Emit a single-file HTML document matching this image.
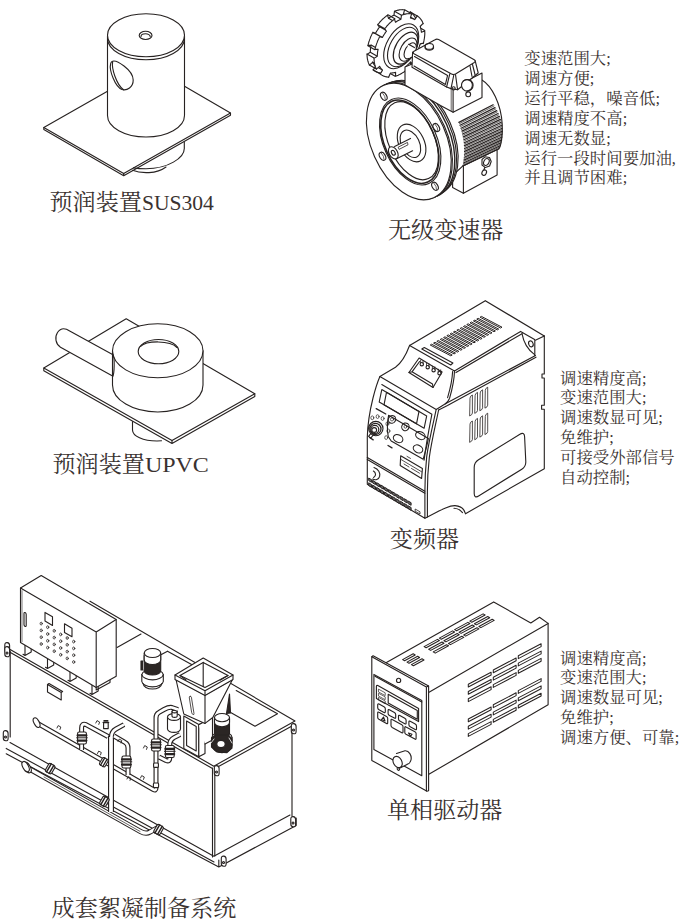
<!DOCTYPE html>
<html lang="zh"><head><meta charset="utf-8"><title>设备选型</title>
<style>
html,body{margin:0;padding:0;background:#fff;}
body{width:700px;height:924px;position:relative;overflow:hidden;font-family:"Liberation Serif",serif;}
svg{position:absolute;left:0;top:0;display:block}
.t{position:absolute;white-space:nowrap;line-height:1;color:transparent;overflow:hidden;height:1.1em;font-family:"Liberation Serif",serif;}
.ln{fill:none;stroke:#272221;stroke-width:1.12;stroke-linecap:round;stroke-linejoin:round}
.lw{fill:#fff;stroke:#272221;stroke-width:1.12;stroke-linecap:round;stroke-linejoin:round}
.lb{font-family:"Liberation Serif","Noto Serif CJK SC",serif;font-size:23.1px;}
.bd{font-family:"Liberation Serif","Noto Serif CJK SC",serif;font-size:16.4px;}
</style></head><body>
<svg width="700" height="924" viewBox="0 0 700 924">
<g fill="#3a3230">
<text class="lb" x="49.5" y="209.5">预润装置<tspan font-size="20.2" textLength="72" lengthAdjust="spacingAndGlyphs">SUS304</tspan></text>
<text class="lb" x="52.5" y="472.2">预润装置<tspan font-size="20.2" textLength="64" lengthAdjust="spacingAndGlyphs">UPVC</tspan></text>
<text class="lb" x="51.6" y="915.8">成套絮凝制备系统</text>
<text class="lb" x="388" y="237.5">无级变速器</text>
<text class="lb" x="389.8" y="546.6">变频器</text>
<text class="lb" x="387" y="817.8">单相驱动器</text>
<text class="bd" x="524.3" y="64.4">变速范围大;</text>
<text class="bd" x="524.3" y="84.23">调速方便;</text>
<text class="bd" x="524.3" y="104.06">运行平稳，噪音低;</text>
<text class="bd" x="524.3" y="123.89">调速精度不高;</text>
<text class="bd" x="524.3" y="143.72">调速无数显;</text>
<text class="bd" x="524.3" y="163.55">运行一段时间要加油,</text>
<text class="bd" x="524.3" y="183.38">并且调节困难;</text>
<text class="bd" x="560" y="383.5">调速精度高;</text>
<text class="bd" x="560" y="403.33">变速范围大;</text>
<text class="bd" x="560" y="423.16">调速数显可见;</text>
<text class="bd" x="560" y="442.99">免维护;</text>
<text class="bd" x="560" y="462.82">可接受外部信号</text>
<text class="bd" x="560" y="482.65">自动控制;</text>
<text class="bd" x="560" y="663.5">调速精度高;</text>
<text class="bd" x="560" y="683.33">变速范围大;</text>
<text class="bd" x="560" y="703.16">调速数显可见;</text>
<text class="bd" x="560" y="722.99">免维护;</text>
<text class="bd" x="560" y="742.82">调速方便、可靠;</text>
</g>
<!-- drawing 1 -->
<g class="ln" id="d1">
<!-- plate top face -->
<path d="M107.5 91.2 L43.8 127.5 L123.7 173.6 L230.5 113 L184.5 86.2"/>
<!-- plate thickness -->
<path d="M43.8 127.5 V129.6 L123.7 175.8 L230.5 115.3 V113 M123.7 173.6 V175.8"/>
<!-- lower cylinder under plate -->
<path d="M184.3 142 V148.5 C184.3 158 168 168.6 146 168.8 C141 168.8 137 168.5 133.5 167.9"/>
<path d="M132.5 170.3 C137 172.2 143 172.9 149 172.6 C156 172.2 161.5 170.4 166 167"/>
<!-- cylinder body -->
<path class="lw" d="M107.5 36 V115.5 A38.5 21.5 0 0 0 184.5 115.5 V36 Z"/>
<!-- lid -->
<path d="M107.5 38.2 A38.5 21.5 0 0 0 184.5 38.2"/>
<ellipse class="lw" cx="146" cy="35.2" rx="38.5" ry="21.5"/>
<!-- small top hole -->
<ellipse cx="145.6" cy="35.4" rx="6.4" ry="4.1"/>
<path d="M141 36.6 A4.6 2.8 0 0 1 150.2 36.6"/>
<!-- side hole -->
<path d="M112 61.5 C116 59 133 70 133.2 80 C133.3 87 127 91 122 89.5 C115 87 109 70 110.6 64 C110.9 62.5 111.4 61.8 112 61.5 Z"/>
<path d="M112.6 62.2 C111.5 68 116 84 123.5 89.8"/>
</g>

<!-- drawing 2 -->
<g class="ln" id="d2">
<path class="lw" d="M452.6 170 L463.4 164 L497.1 148.7 V175 L463.4 193.3 L452.6 187.6 Z"/>
<path d="M463.4 166 V193.3"/>
<path class="lw" d="M440 100 L482 80 C492 86 501 104 502.2 124 C502.8 136 501 146 498.9 148.7 L462.9 165.9 L452 176 Z"/>
<path style="stroke-width:1.25" d="M458.9 122.4 L493.1 104.7 M460.0 125.3 L495.0 107.6 M461.0 128.2 L496.7 110.6 M461.9 131.1 L498.1 113.5 M462.6 134.0 L499.4 116.4 M463.3 136.9 L500.4 119.4 M463.8 139.8 L501.2 122.3 M464.2 142.7 L501.8 125.2 M464.4 145.6 L502.2 128.2 M464.6 148.5 L502.4 131.1 M464.6 151.4 L502.3 134.0 M464.5 154.3 L502.1 137.0 M464.3 157.2 L501.6 139.9 M463.9 160.1 L500.9 142.8 M463.5 163.0 L500.0 145.8 M462.9 165.9 L498.9 148.7 "/>
<path style="stroke-width:.7" d="M459.4 123.7 L494.0 106.0 M460.5 126.6 L495.8 109.0 M461.4 129.5 L497.3 111.9 M462.2 132.4 L498.7 114.8 M462.9 135.3 L499.9 117.8 M463.5 138.2 L500.8 120.7 M464.0 141.1 L501.5 123.6 M464.3 144.0 L502.0 126.6 M464.5 146.9 L502.3 129.5 M464.6 149.8 L502.4 132.4 M464.6 152.7 L502.2 135.4 M464.4 155.6 L501.9 138.3 M464.1 158.5 L501.3 141.2 M463.8 161.4 L500.5 144.2 M463.2 164.3 L499.5 147.1 "/>
<path class="lw" d="M482 159.5 L485 156.8 L489.5 157.5 L491.2 161.5 L489.6 166 L485.4 167.6 L482 165 Z"/>
<ellipse cx="486.4" cy="162" rx="2.6" ry="3.6" transform="rotate(25 486.4 162)"/>
<ellipse cx="484.2" cy="172.6" rx="2.2" ry="2.8" transform="rotate(25 484.2 172.6)"/>
<path d="M484.6 167.6 L484 170"/>
<ellipse class="lw" cx="416.3" cy="137.7" rx="37" ry="60.5" transform="rotate(-24 416.3 137.7)" />
<ellipse class="lw" cx="414.3" cy="138.7" rx="37.5" ry="61" transform="rotate(-24 414.3 138.7)" />
<ellipse class="lw" cx="412.40000000000003" cy="139.7" rx="37.5" ry="61.5" transform="rotate(-24 412.40000000000003 139.7)" style="stroke-width:1.4"/>
<ellipse class="ln" cx="410.0" cy="140.9" rx="37.5" ry="61.5" transform="rotate(-24 410.0 140.9)" />
<ellipse class="lw" cx="408.8" cy="141.5" rx="37.5" ry="61.5" transform="rotate(-24 408.8 141.5)" />
<ellipse class="ln" cx="410.2" cy="141.5" rx="26.6" ry="46" transform="rotate(-24 410.2 141.5)" />
<ellipse class="ln" cx="409.8" cy="141.7" rx="25" ry="44.2" transform="rotate(-24 409.8 141.7)" style="stroke-width:1.6"/>
<ellipse class="ln" cx="411.6" cy="140.7" rx="22.8" ry="41.5" transform="rotate(-24 411.6 140.7)" />
<ellipse class="ln" cx="411.6" cy="143" rx="12.6" ry="20" transform="rotate(-26 411.6 143)" />
<ellipse class="ln" cx="410.4" cy="143.8" rx="9" ry="14.6" transform="rotate(-26 410.4 143.8)" />
<path class="lw" d="M394.6 146.4 L410.5 138.4 L414 150 L396.6 158.8 Z" style="stroke:none"/>
<path d="M394.6 146.4 L410.5 138.4 M396.6 158.8 L412.6 150.8"/>
<ellipse class="lw" cx="393.3" cy="152.8" rx="4.2" ry="6.6" transform="rotate(-30 393.3 152.8)" />
<ellipse class="ln" cx="393.3" cy="152.8" rx="1.7" ry="2.6" transform="rotate(-30 393.3 152.8)" />
<path style="stroke-width:.8" d="M398.5 147 L407.5 142.4 L408 144.8 L399.4 149.2Z"/>
<ellipse class="ln" cx="383.8" cy="96.3" rx="2.8" ry="4.4" transform="rotate(-30 383.8 96.3)" />
<path style="stroke-width:.7" d="M382.6 93.1 Q385.6 96.3 385.4 99.7"/>
<ellipse class="ln" cx="436.3" cy="127.5" rx="2.8" ry="4.4" transform="rotate(-30 436.3 127.5)" />
<path style="stroke-width:.7" d="M435.1 124.3 Q438.1 127.5 437.9 130.9"/>
<ellipse class="ln" cx="382.5" cy="156.3" rx="2.8" ry="4.4" transform="rotate(-30 382.5 156.3)" />
<path style="stroke-width:.7" d="M381.3 153.1 Q384.3 156.3 384.1 159.7"/>
<ellipse class="ln" cx="435" cy="186.3" rx="2.8" ry="4.4" transform="rotate(-30 435 186.3)" />
<path style="stroke-width:.7" d="M433.8 183.1 Q436.8 186.3 436.6 189.7"/>
<path class="lw" d="M411.0 52.1 L410.7 52.7 L410.4 53.2 L410.1 53.7 L409.8 54.2 L409.4 54.7 L409.1 55.2 L408.8 55.7 L408.4 56.2 L408.1 56.7 L407.7 57.2 L407.4 57.7 L407.0 58.1 L406.7 58.6 L406.3 59.1 L405.9 59.5 L405.5 60.0 L403.5 57.9 L403.2 58.3 L402.8 58.7 L402.5 59.1 L402.1 59.4 L401.8 59.8 L401.4 60.2 L401.1 60.5 L400.7 60.9 L400.4 61.2 L400.0 61.5 L399.7 61.9 L399.3 62.2 L398.9 62.5 L398.6 62.8 L399.0 66.3 L398.6 66.7 L398.2 67.0 L397.8 67.3 L397.3 67.7 L396.9 68.0 L396.5 68.3 L396.0 68.6 L395.6 68.8 L395.1 69.1 L394.7 69.4 L394.3 69.6 L393.8 69.9 L393.4 70.1 L392.9 70.4 L392.5 70.6 L392.0 70.8 L391.6 71.0 L391.2 71.2 L390.7 71.4 L390.3 71.6 L389.8 71.7 L389.4 71.9 L388.9 72.0 L388.5 72.2 L388.6 68.3 L388.3 68.4 L387.9 68.5 L387.5 68.6 L387.1 68.7 L386.8 68.7 L386.4 68.8 L386.0 68.9 L385.6 68.9 L385.3 69.0 L384.9 69.0 L384.6 69.0 L384.2 69.0 L383.8 69.0 L383.5 69.0 L381.7 73.1 L381.3 73.1 L381.0 73.1 L380.6 73.0 L380.2 73.0 L379.8 72.9 L379.4 72.9 L379.0 72.8 L378.6 72.7 L378.3 72.6 L377.9 72.5 L377.5 72.4 L377.2 72.2 L376.8 72.1 L376.5 72.0 L376.1 71.8 L375.8 71.6 L375.5 71.5 L375.1 71.3 L374.8 71.1 L374.5 70.9 L374.2 70.7 L373.9 70.5 L373.6 70.2 L373.3 70.0 L375.5 66.1 L375.3 65.8 L375.0 65.6 L374.8 65.4 L374.6 65.1 L374.4 64.9 L374.1 64.6 L373.9 64.4 L373.7 64.1 L373.5 63.8 L373.3 63.5 L373.1 63.2 L372.9 62.9 L372.8 62.6 L372.6 62.3 L369.4 65.1 L369.2 64.7 L369.1 64.3 L368.9 63.9 L368.7 63.5 L368.6 63.1 L368.4 62.7 L368.3 62.3 L368.2 61.9 L368.0 61.5 L367.9 61.0 L367.8 60.6 L367.7 60.2 L367.6 59.7 L367.5 59.3 L367.4 58.8 L367.3 58.3 L367.3 57.9 L367.2 57.4 L367.2 56.9 L367.1 56.4 L367.1 55.9 L367.1 55.4 L367.0 54.9 L367.0 54.4 L370.3 52.3 L370.3 51.8 L370.3 51.4 L370.3 50.9 L370.4 50.5 L370.4 50.0 L370.4 49.6 L370.5 49.1 L370.5 48.6 L370.6 48.2 L370.6 47.7 L370.7 47.2 L370.8 46.8 L370.9 46.3 L371.0 45.8 L371.1 45.3 L368.0 45.4 L368.1 44.8 L368.2 44.3 L368.4 43.7 L368.5 43.2 L368.7 42.6 L368.8 42.1 L369.0 41.5 L369.2 41.0 L369.4 40.4 L369.6 39.9 L369.7 39.3 L370.0 38.7 L370.2 38.2 L370.4 37.6 L370.6 37.1 L370.8 36.5 L371.1 36.0 L371.3 35.5 L371.6 34.9 L371.8 34.4 L372.1 33.8 L372.3 33.3 L372.6 32.8 L375.4 33.4 L375.7 33.0 L375.9 32.5 L376.2 32.0 L376.5 31.6 L376.7 31.1 L377.0 30.7 L377.3 30.3 L377.6 29.8 L377.9 29.4 L378.2 28.9 L378.4 28.5 L378.7 28.1 L379.1 27.7 L379.4 27.3 L377.8 24.7 L378.1 24.2 L378.5 23.7 L378.9 23.3 L379.3 22.8 L379.6 22.4 L380.0 21.9 L380.4 21.5 L380.8 21.1 L381.2 20.7 L381.6 20.2 L382.0 19.8 L382.4 19.4 L382.8 19.0 L383.2 18.6 L383.6 18.3 L384.1 17.9 L384.5 17.5 L384.9 17.2 L385.3 16.8 L385.8 16.5 L386.2 16.1 L386.6 15.8 L387.0 15.5 L387.5 15.1 L388.5 18.3 L388.9 18.0 L389.3 17.8 L389.6 17.5 L390.0 17.3 L390.4 17.1 L390.8 16.8 L391.2 16.6 L391.6 16.4 L391.9 16.2 L392.3 16.0 L392.7 15.8 L393.1 15.6 L393.5 15.5 L393.9 15.3 L394.5 11.2 L395.0 11.1 L395.4 10.9 L395.9 10.8 L396.3 10.6 L396.7 10.5 L397.2 10.4 L397.6 10.3 L398.0 10.1 L398.5 10.1 L398.9 10.0 L399.3 9.9 L399.7 9.8 L400.2 9.8 L400.6 9.7 L401.0 9.7 L401.4 9.7 L401.8 9.7 L402.2 9.6 L402.6 9.7 L403.1 9.7 L403.5 9.7 L403.8 9.7 L404.2 9.8 L404.6 9.8 L403.4 14.0 L403.7 14.0 L404.0 14.1 L404.4 14.2 L404.7 14.3 L405.0 14.4 L405.3 14.5 L405.6 14.6 L405.9 14.7 L406.2 14.8 L406.5 15.0 L406.8 15.1 L407.1 15.2 L407.4 15.4 L407.7 15.6 L410.3 11.9 L410.6 12.1 L410.9 12.3 L411.2 12.6 L411.5 12.8 L411.8 13.1 L412.1 13.3 L412.4 13.6 L412.6 13.8 L412.9 14.1 L413.1 14.4 L413.4 14.7 L413.6 15.0 L413.9 15.3 L414.1 15.6 L414.3 16.0 L414.6 16.3 L414.8 16.6 L415.0 17.0 L415.2 17.4 L415.4 17.7 L415.6 18.1 L415.7 18.5 L415.9 18.9 L416.1 19.3 L413.1 22.5 L413.3 22.8 L413.4 23.2 L413.5 23.6 L413.6 23.9 L413.7 24.3 L413.8 24.7 L413.9 25.1 L414.0 25.5 L414.1 25.9 L414.1 26.3 L414.2 26.7 L414.3 27.1 L414.3 27.5 L414.4 27.9 L414.4 28.3 L417.7 26.9 L417.7 27.4 L417.8 27.9 L417.8 28.4 L417.8 28.9 L417.8 29.4 L417.8 29.9 L417.8 30.4 L417.7 31.0 L417.7 31.5 L417.7 32.0 L417.6 32.5 L417.5 33.1 L417.5 33.6 L417.4 34.1 L417.3 34.7 L417.2 35.2 L417.1 35.8 L417.0 36.3 L416.9 36.9 L416.8 37.4 L416.7 38.0 L416.6 38.5 L416.4 39.1 L413.2 39.9 L413.0 40.3 L412.9 40.8 L412.8 41.3 L412.6 41.8 L412.4 42.3 L412.3 42.7 L412.1 43.2 L411.9 43.7 L411.7 44.2 L411.6 44.7 L411.4 45.1 L411.2 45.6 L411.0 46.1 L410.7 46.6 L410.5 47.0 L413.0 48.4 L412.7 49.0 L412.5 49.5 L412.2 50.0 L411.9 50.6 L411.6 51.1 L411.3 51.6Z"/>
<path d="M412.2 64.4 L405.2 60.4 M410.5 61.9 L403.5 57.9 M406.0 70.3 L399.0 66.3 M405.2 67.1 L398.2 63.1 M395.1 76.3 L388.1 72.3 M395.6 72.3 L388.6 68.3 M388.7 77.1 L381.7 73.1 M390.1 73.0 L383.1 69.0 M380.0 73.7 L373.0 69.7 M382.5 70.1 L375.5 66.1 M376.4 69.1 L369.4 65.1 M379.4 66.0 L372.4 62.0 M374.0 57.9 L367.0 53.9 M377.3 56.3 L370.3 52.3 M374.9 49.7 L367.9 45.7 M378.1 49.1 L371.1 45.1 M379.9 36.2 L372.9 32.2 M382.4 37.4 L375.4 33.4 M384.8 28.7 L377.8 24.7 M386.7 30.8 L379.7 26.8 M394.9 18.8 L387.9 14.8 M395.5 22.3 L388.5 18.3 M401.5 15.2 L394.5 11.2 M401.3 19.2 L394.3 15.2 M412.0 13.9 L405.0 9.9 M410.4 18.0 L403.4 14.0 M417.3 15.9 L410.3 11.9 M415.0 19.7 L408.0 15.7 M423.2 23.7 L416.2 19.7 M420.1 26.5 L413.1 22.5 M424.7 30.6 L417.7 26.6 M421.4 32.6 L414.4 28.6 M423.3 43.6 L416.3 39.6 M420.2 43.9 L413.2 39.9 M420.1 52.2 L413.1 48.2 M417.4 51.3 L410.4 47.3 "/>
<path class="lw" d="M418.0 56.1 L417.7 56.7 L417.4 57.2 L417.1 57.7 L416.8 58.2 L416.4 58.7 L416.1 59.2 L415.8 59.7 L415.4 60.2 L415.1 60.7 L414.7 61.2 L414.4 61.7 L414.0 62.1 L413.7 62.6 L413.3 63.1 L412.9 63.5 L412.5 64.0 L410.5 61.9 L410.2 62.3 L409.8 62.7 L409.5 63.1 L409.1 63.4 L408.8 63.8 L408.4 64.2 L408.1 64.5 L407.7 64.9 L407.4 65.2 L407.0 65.5 L406.7 65.9 L406.3 66.2 L405.9 66.5 L405.6 66.8 L406.0 70.3 L405.6 70.7 L405.2 71.0 L404.8 71.3 L404.3 71.7 L403.9 72.0 L403.5 72.3 L403.0 72.6 L402.6 72.8 L402.1 73.1 L401.7 73.4 L401.3 73.6 L400.8 73.9 L400.4 74.1 L399.9 74.4 L399.5 74.6 L399.0 74.8 L398.6 75.0 L398.2 75.2 L397.7 75.4 L397.3 75.6 L396.8 75.7 L396.4 75.9 L395.9 76.0 L395.5 76.2 L395.6 72.3 L395.3 72.4 L394.9 72.5 L394.5 72.6 L394.1 72.7 L393.8 72.7 L393.4 72.8 L393.0 72.9 L392.6 72.9 L392.3 73.0 L391.9 73.0 L391.6 73.0 L391.2 73.0 L390.8 73.0 L390.5 73.0 L388.7 77.1 L388.3 77.1 L388.0 77.1 L387.6 77.0 L387.2 77.0 L386.8 76.9 L386.4 76.9 L386.0 76.8 L385.6 76.7 L385.3 76.6 L384.9 76.5 L384.5 76.4 L384.2 76.2 L383.8 76.1 L383.5 76.0 L383.1 75.8 L382.8 75.6 L382.5 75.5 L382.1 75.3 L381.8 75.1 L381.5 74.9 L381.2 74.7 L380.9 74.5 L380.6 74.2 L380.3 74.0 L382.5 70.1 L382.3 69.8 L382.0 69.6 L381.8 69.4 L381.6 69.1 L381.4 68.9 L381.1 68.6 L380.9 68.4 L380.7 68.1 L380.5 67.8 L380.3 67.5 L380.1 67.2 L379.9 66.9 L379.8 66.6 L379.6 66.3 L376.4 69.1 L376.2 68.7 L376.1 68.3 L375.9 67.9 L375.7 67.5 L375.6 67.1 L375.4 66.7 L375.3 66.3 L375.2 65.9 L375.0 65.5 L374.9 65.0 L374.8 64.6 L374.7 64.2 L374.6 63.7 L374.5 63.3 L374.4 62.8 L374.3 62.3 L374.3 61.9 L374.2 61.4 L374.2 60.9 L374.1 60.4 L374.1 59.9 L374.1 59.4 L374.0 58.9 L374.0 58.4 L377.3 56.3 L377.3 55.8 L377.3 55.4 L377.3 54.9 L377.4 54.5 L377.4 54.0 L377.4 53.6 L377.5 53.1 L377.5 52.6 L377.6 52.2 L377.6 51.7 L377.7 51.2 L377.8 50.8 L377.9 50.3 L378.0 49.8 L378.1 49.3 L375.0 49.4 L375.1 48.8 L375.2 48.3 L375.4 47.7 L375.5 47.2 L375.7 46.6 L375.8 46.1 L376.0 45.5 L376.2 45.0 L376.4 44.4 L376.6 43.9 L376.7 43.3 L377.0 42.7 L377.2 42.2 L377.4 41.6 L377.6 41.1 L377.8 40.5 L378.1 40.0 L378.3 39.5 L378.6 38.9 L378.8 38.4 L379.1 37.8 L379.3 37.3 L379.6 36.8 L382.4 37.4 L382.7 37.0 L382.9 36.5 L383.2 36.0 L383.5 35.6 L383.7 35.1 L384.0 34.7 L384.3 34.3 L384.6 33.8 L384.9 33.4 L385.2 32.9 L385.4 32.5 L385.7 32.1 L386.1 31.7 L386.4 31.3 L384.8 28.7 L385.1 28.2 L385.5 27.7 L385.9 27.3 L386.3 26.8 L386.6 26.4 L387.0 25.9 L387.4 25.5 L387.8 25.1 L388.2 24.7 L388.6 24.2 L389.0 23.8 L389.4 23.4 L389.8 23.0 L390.2 22.6 L390.6 22.3 L391.1 21.9 L391.5 21.5 L391.9 21.2 L392.3 20.8 L392.8 20.5 L393.2 20.1 L393.6 19.8 L394.0 19.5 L394.5 19.1 L395.5 22.3 L395.9 22.0 L396.3 21.8 L396.6 21.5 L397.0 21.3 L397.4 21.1 L397.8 20.8 L398.2 20.6 L398.6 20.4 L398.9 20.2 L399.3 20.0 L399.7 19.8 L400.1 19.6 L400.5 19.5 L400.9 19.3 L401.5 15.2 L402.0 15.1 L402.4 14.9 L402.9 14.8 L403.3 14.6 L403.7 14.5 L404.2 14.4 L404.6 14.3 L405.0 14.1 L405.5 14.1 L405.9 14.0 L406.3 13.9 L406.7 13.8 L407.2 13.8 L407.6 13.7 L408.0 13.7 L408.4 13.7 L408.8 13.7 L409.2 13.6 L409.6 13.7 L410.1 13.7 L410.5 13.7 L410.8 13.7 L411.2 13.8 L411.6 13.8 L410.4 18.0 L410.7 18.0 L411.0 18.1 L411.4 18.2 L411.7 18.3 L412.0 18.4 L412.3 18.5 L412.6 18.6 L412.9 18.7 L413.2 18.8 L413.5 19.0 L413.8 19.1 L414.1 19.2 L414.4 19.4 L414.7 19.6 L417.3 15.9 L417.6 16.1 L417.9 16.3 L418.2 16.6 L418.5 16.8 L418.8 17.1 L419.1 17.3 L419.4 17.6 L419.6 17.8 L419.9 18.1 L420.1 18.4 L420.4 18.7 L420.6 19.0 L420.9 19.3 L421.1 19.6 L421.3 20.0 L421.6 20.3 L421.8 20.6 L422.0 21.0 L422.2 21.4 L422.4 21.7 L422.6 22.1 L422.7 22.5 L422.9 22.9 L423.1 23.3 L420.1 26.5 L420.3 26.8 L420.4 27.2 L420.5 27.6 L420.6 27.9 L420.7 28.3 L420.8 28.7 L420.9 29.1 L421.0 29.5 L421.1 29.9 L421.1 30.3 L421.2 30.7 L421.3 31.1 L421.3 31.5 L421.4 31.9 L421.4 32.3 L424.7 30.9 L424.7 31.4 L424.8 31.9 L424.8 32.4 L424.8 32.9 L424.8 33.4 L424.8 33.9 L424.8 34.4 L424.7 35.0 L424.7 35.5 L424.7 36.0 L424.6 36.5 L424.5 37.1 L424.5 37.6 L424.4 38.1 L424.3 38.7 L424.2 39.2 L424.1 39.8 L424.0 40.3 L423.9 40.9 L423.8 41.4 L423.7 42.0 L423.6 42.5 L423.4 43.1 L420.2 43.9 L420.0 44.3 L419.9 44.8 L419.8 45.3 L419.6 45.8 L419.4 46.3 L419.3 46.7 L419.1 47.2 L418.9 47.7 L418.7 48.2 L418.6 48.7 L418.4 49.1 L418.2 49.6 L418.0 50.1 L417.7 50.6 L417.5 51.0 L420.0 52.4 L419.7 53.0 L419.5 53.5 L419.2 54.0 L418.9 54.6 L418.6 55.1 L418.3 55.6Z"/>
<ellipse class="lw" cx="401.2" cy="46.2" rx="14.5" ry="24.5" transform="rotate(30 401.2 46.2)" />
<ellipse class="lw" cx="402.8" cy="47" rx="12.6" ry="21.5" transform="rotate(30 402.8 47)" />
<ellipse class="lw" cx="405.6" cy="48.2" rx="10" ry="17.5" transform="rotate(30 405.6 48.2)" style="stroke-width:1.3"/>
<ellipse class="lw" cx="408" cy="49.6" rx="7.2" ry="12.7" transform="rotate(30 408 49.6)" />
<ellipse class="lw" cx="410.2" cy="50.8" rx="5" ry="8.8" transform="rotate(30 410.2 50.8)" />
<path class="lw" d="M407.5 44.5 L414.5 48 L414.5 56 L409 57.8Z" style="stroke:none"/>
<path d="M408.6 44.3 L414.4 47.6 M411 57.6 L414.4 56.2"/>
<path class="lw" d="M405 67 L412 64 L453.1 88 L482 73 V97.5 L453.1 112.3 L440.5 105.5 L405 85 Z"/>
<path d="M453.1 90 V112.3"/>
<path d="M451.2 88.5 V110.5" style="stroke-width:.7"/>
<path class="lw" d="M412.6 52 L412 67.2 L446.6 87 L451 88.6 L457.6 89.8 L478.2 73 L475.2 60.8 Z"/>
<path class="lw" d="M414 51.2 Q412.2 52.6 414.4 53.9 L451.6 74 Q453.8 75 455.9 73.8 L474.3 62.4 Q476.2 61 474.2 59.8 L438.6 39.6 Q436.8 38.6 435 39.7 Z"/>
<path d="M453.8 75 L451 88.6 M455.5 74.5 L457.6 89.8 M449.8 73.8 L446.6 87"/>
<path d="M414.5 56.5 L447.6 75.4 L445.4 84.4 L414 66"/>
<path d="M472.5 64.5 L475 74.5 M470 66 L472 76.5"/>
<circle cx="453.6" cy="88.4" r="1.6"/>
<ellipse cx="429.3" cy="46.4" rx="4.2" ry="2.9"/>
<path d="M425.1 46.4 V48.2 C426 51 432.6 51 433.5 48.2 V46.4"/>
<circle class="lw" cx="467.3" cy="85.3" r="5.8"/>
<path d="M463.2 81.2 C466 78.5 471.5 79.5 472.3 84 C472.8 87.5 470.5 90.3 467.3 91.1"/>
<circle class="lw" cx="468.2" cy="94.3" r="2.4"/>
</g>
<!-- drawing 3 -->
<g class="ln" id="d3">
<!-- plate -->
<path d="M43.8 368 L126.2 318.8 L254.8 393.8 L172 440.5 Z"/>
<path d="M43.8 368 V370.8 L172 443.4 L254.8 396.6 V393.8 M172 440.5 V443.4"/>
<!-- under-plate stub -->
<path d="M132.5 421.5 V430 C132.5 436 143 441 157 441 L161.5 440.8"/>
<!-- pipe -->
<path class="lw" d="M66.5 329.3 L118 357.5 L118 379 L60.5 347.2 C55.5 344 54.5 337 57.5 332.5 C59.5 329.5 63 328 66.5 329.3 Z"/>
<!-- ring body -->
<path class="lw" d="M112.5 350.8 V385 A45.25 27 0 0 0 203 385 V350.8 Z"/>
<ellipse class="lw" cx="157.75" cy="350.8" rx="45.25" ry="27"/>
<ellipse cx="158.5" cy="351.6" rx="20.3" ry="12.1"/>
<path d="M140.6 346.5 C146 340.5 170 340 177 347.5"/>
<!-- pipe/ring junction -->
<path d="M112.5 354 C115 356 114.5 374 112.5 377"/>
</g>

<!-- drawing 4 -->
<g class="ln" id="d4">
<path style="stroke-width:1.2" d="M409.6 345.4 L485.3 300.7 L544.3 336"/>
<path d="M544.3 336 V374 H542 V378 H544.3 V405.2 H541.6 V409.2 H544.3 V468.7 L465.5 513.7"/>
<path d="M465.5 513.7 C464.5 509.5 461 506 455 505.6 C449 505.4 441 510 424.9 518.2"/>
<path d="M462.5 512.6 C460 509.5 457.5 508.3 454 508.2"/>
<path d="M409.6 345.4 C407.5 351 404 361 395.5 367.3 L379.9 376.5"/>
<path d="M409.6 345.4 L454.5 370.9"/>
<path d="M379.9 376.5 L436.2 409.4 C434.5 418 429 440 426.7 456.6 C425.3 470 424.9 480 424.9 491.2 V518.2 L367.3 484.3 V437 C367.6 425 370 410 373 398 C375 390 377.5 382 379.9 376.5Z"/>
<path d="M438.6 410 C436.5 421 431.5 441 429.3 457.5 C427.8 471 427.4 481 427.4 491.5 V517"/>
<path d="M367.3 457.4 L424.9 491.2 M367.3 459.4 L424.9 493.2"/>
<path d="M381.8 384.5 L431.9 414.2 C430 424 426 444 424.1 460.3"/>
<path d="M381.8 389.6 L426.7 415.9 L424.1 428.3 L379.2 402 Z"/>
<path d="M386.5 392.3 L384 404.8 M419 411.4 L416.5 423.8 M386.5 392.3 L419 411.4 M384 404.8 L416.5 423.8"/>
<circle cx="375.8" cy="428.6" r="7.2"/><circle style="stroke-width:1.3" cx="375.4" cy="428.9" r="5.6"/><circle style="stroke-width:1.2" cx="374.8" cy="429.4" r="4"/><circle cx="374.2" cy="430" r="2.4"/>
<path d="M371.8 432.2 L368.6 436.4 L370.8 438.2 L374 434"/>
<ellipse style="stroke-width:.7" cx="372.3" cy="417.8" rx="1.5" ry="1.9"/>
<ellipse style="stroke-width:.7" cx="377.6" cy="416.6" rx="1.5" ry="1.9"/>
<ellipse style="stroke-width:.7" cx="382.6" cy="418.5" rx="1.5" ry="1.9"/>
<ellipse style="stroke-width:.7" cx="387.4" cy="423.8" rx="1.5" ry="1.9"/>
<ellipse style="stroke-width:.7" cx="388.4" cy="431" rx="1.5" ry="1.9"/>
<ellipse style="stroke-width:.7" cx="386.2" cy="437.6" rx="1.5" ry="1.9"/>
<path d="M388.6 415.3 L428.4 438.4 C427 446 425 453 423.2 459.2 L391.2 441 L388.2 436.5 Q386.4 426 388.6 415.3"/>
<path style="stroke-width:1.3" d="M376.2 408.6 l9.6 5.4 M369.6 437.5 l3.6 2.4 M388 445.5 l4 2.4"/>
<ellipse cx="392" cy="419.4" rx="3.6" ry="3.9" transform="rotate(30 392 419.4)"/>
<ellipse cx="405.4" cy="426.8" rx="3.6" ry="3.9" transform="rotate(30 405.4 426.8)"/>
<circle cx="392" cy="419.4" r="1.6" style="stroke-width:.7"/><circle cx="405.4" cy="426.8" r="1.4" style="stroke-width:.7"/>
<ellipse cx="398.1" cy="438.6" rx="5" ry="3.7" transform="rotate(28 398.1 438.6)"/>
<ellipse cx="420.4" cy="435.6" rx="5" ry="3.7" transform="rotate(28 420.4 435.6)"/>
<ellipse cx="418" cy="448.9" rx="5" ry="3.7" transform="rotate(28 418 448.9)"/>
<path d="M400.7 455.8 L422.4 468.6 L421.6 478.4 L400.2 465.4 Z"/>
<path style="stroke-width:.8" d="M401 459.5 L421.5 471.7 M404 464 L409 467 M411.5 468.5 L419.5 473.2 M407 456.4 L410.5 458.4"/>
<path style="stroke-width:1.1" d="M374 467.5 C378.5 469 380.5 473 379.6 476.5 C378.6 479.5 375.5 480.5 372.6 479 M373.4 471 C376 472.5 376.4 476 373.6 477.6"/>
<path style="stroke-width:1;fill:#666" d="M369.0 478.2 l2.6 1.5 v2.6 l-2.6 -1.5 Z M369.0 483.0 l2.6 1.5 v2.8 l-2.6 -1.5 Z M372.9 480.5 l2.6 1.5 v2.6 l-2.6 -1.5 Z M372.9 485.3 l2.6 1.5 v2.8 l-2.6 -1.5 Z M376.9 482.8 l2.6 1.5 v2.6 l-2.6 -1.5 Z M376.9 487.6 l2.6 1.5 v2.8 l-2.6 -1.5 Z M380.9 485.1 l2.6 1.5 v2.6 l-2.6 -1.5 Z M380.9 489.9 l2.6 1.5 v2.8 l-2.6 -1.5 Z M384.8 487.4 l2.6 1.5 v2.6 l-2.6 -1.5 Z M384.8 492.2 l2.6 1.5 v2.8 l-2.6 -1.5 Z M388.8 489.7 l2.6 1.5 v2.6 l-2.6 -1.5 Z M388.8 494.5 l2.6 1.5 v2.8 l-2.6 -1.5 Z M392.7 492.0 l2.6 1.5 v2.6 l-2.6 -1.5 Z M392.7 496.8 l2.6 1.5 v2.8 l-2.6 -1.5 Z M396.6 494.3 l2.6 1.5 v2.6 l-2.6 -1.5 Z M396.6 499.1 l2.6 1.5 v2.8 l-2.6 -1.5 Z M400.6 496.6 l2.6 1.5 v2.6 l-2.6 -1.5 Z M400.6 501.4 l2.6 1.5 v2.8 l-2.6 -1.5 Z M404.6 498.9 l2.6 1.5 v2.6 l-2.6 -1.5 Z M404.6 503.7 l2.6 1.5 v2.8 l-2.6 -1.5 Z M408.5 501.2 l2.6 1.5 v2.6 l-2.6 -1.5 Z M408.5 506.0 l2.6 1.5 v2.8 l-2.6 -1.5 Z "/>
<path style="stroke-width:.8" d="M415.5 509.2 l4.5 2.6 v2.2 l-4.5 -2.6Z"/>
<path d="M421.8 348.9 L424.3 347.5 L452.9 363 L450.7 365 Z"/>
<path style="stroke-width:1" d="M430.6 345.2 l20.2 10.6 l1.4 -0.8 l-20.2 -10.6 Z M433.9 343.3 l20.2 10.6 l1.4 -0.8 l-20.2 -10.6 Z M437.2 341.5 l20.2 10.6 l1.4 -0.8 l-20.2 -10.6 Z M440.6 339.6 l20.2 10.6 l1.4 -0.8 l-20.2 -10.6 Z M443.9 337.8 l20.2 10.6 l1.4 -0.8 l-20.2 -10.6 Z M447.2 335.9 l20.2 10.6 l1.4 -0.8 l-20.2 -10.6 Z M450.5 334.1 l20.2 10.6 l1.4 -0.8 l-20.2 -10.6 Z M453.8 332.2 l20.2 10.6 l1.4 -0.8 l-20.2 -10.6 Z M457.2 330.4 l20.2 10.6 l1.4 -0.8 l-20.2 -10.6 Z M460.5 328.6 l20.2 10.6 l1.4 -0.8 l-20.2 -10.6 Z M463.8 326.7 l20.2 10.6 l1.4 -0.8 l-20.2 -10.6 Z M467.1 324.8 l20.2 10.6 l1.4 -0.8 l-20.2 -10.6 Z M470.4 323.0 l20.2 10.6 l1.4 -0.8 l-20.2 -10.6 Z M473.8 321.1 l20.2 10.6 l1.4 -0.8 l-20.2 -10.6 Z M477.1 319.3 l20.2 10.6 l1.4 -0.8 l-20.2 -10.6 Z M480.4 317.4 l20.2 10.6 l1.4 -0.8 l-20.2 -10.6 Z "/>
<path d="M454.5 370.9 L520.6 331.4 L534.6 339.6 M456 372.6 L522 333.7"/>
<path d="M522 333.7 C523.5 342 528 350 534.6 354.6"/>
<path d="M544.3 336 L534.8 340.6 V355.6"/>
<ellipse cx="530.9" cy="343.9" rx="2.2" ry="3" transform="rotate(-20 530.9 343.9)"/>
<path d="M454.5 370.9 C454.3 379 452.5 388 449.6 398.2 C448.5 401 447 402.6 445.4 403.8 M452.6 371.6 C452.3 379 450.5 388 447.6 397.6"/>
<path d="M436.2 409.4 L445.4 403.8 L535.5 355.5 M438.6 410 L447.5 405.6 L536 357.2"/>
<path d="M408.9 372.5 L419.1 358 L442.1 372 L433 387.5 Z"/>
<path d="M408.9 372.5 L412 371.8 L432.5 384 L433 387.5 M412 371.8 L419.6 361.5"/>
<circle style="stroke-width:1.1" cx="421.8" cy="364.2" r="1.7"/>
<path style="stroke-width:.8" d="M420.6 360.2 v3 M423.0 360.8 v3"/>
<circle style="stroke-width:1.1" cx="427.7" cy="367.2" r="1.7"/>
<path style="stroke-width:.8" d="M426.5 363.2 v3 M428.9 363.8 v3"/>
<circle style="stroke-width:1.1" cx="433.6" cy="370.2" r="1.7"/>
<path style="stroke-width:.8" d="M432.4 366.2 v3 M434.8 366.8 v3"/>
<circle style="stroke-width:1.1" cx="439.5" cy="373.2" r="1.7"/>
<path style="stroke-width:.8" d="M438.3 369.2 v3 M440.7 369.8 v3"/>
<path style="stroke-width:.8" d="M470.0 397.8 Q470.0 396.0 472.4 395.0 V413.0 Q472.4 414.8 470.0 415.8 Z M475.1 395.2 Q475.1 393.4 477.5 392.4 V410.4 Q477.5 412.2 475.1 413.2 Z M480.2 392.6 Q480.2 390.8 482.6 389.8 V407.8 Q482.6 409.6 480.2 410.6 Z M485.3 390.0 Q485.3 388.2 487.7 387.2 V405.2 Q487.7 407.0 485.3 408.0 Z M470.0 423.8 Q470.0 422.0 472.4 421.0 V439.4 Q472.4 441.2 470.0 442.2 Z M475.1 421.2 Q475.1 419.4 477.5 418.4 V436.8 Q477.5 438.6 475.1 439.6 Z M480.2 418.6 Q480.2 416.8 482.6 415.8 V434.2 Q482.6 436.0 480.2 437.0 Z M485.3 416.0 Q485.3 414.2 487.7 413.2 V431.6 Q487.7 433.4 485.3 434.4 Z "/>
<path d="M474.2 467.5 Q474.2 462.5 478.5 459.8 L519.5 434.5 Q524.4 431.5 524.6 436.8 L525.8 461.5 Q526 466.5 521.8 469.2 L479 495.8 Q474.2 498.8 474.2 493.5 Z"/>
</g>
<!-- drawing 5 -->
<g class="ln" id="d5">
<path d="M8.8 648.8 L213.8 766.2 L295 721 L90 601.2"/>
<path d="M10 652.2 L212.5 768.6 M214.8 768.6 L292 726"/>
<path d="M10.2 651 V737 M212.5 768 V857 M214.8 768.6 V856 M292 725 V816"/>
<path d="M141 634 L117 647.4"/>
<path d="M167.5 651.2 L159.5 655.6 M167.5 651.2 L197 667.6"/>
<path d="M236.2 690.5 L277.5 713.8 L255 726.2 L228 711"/>
<path d="M10 742.5 L213.8 856.2 L290 815 M6.2 748.4 L214 862 M6.2 753.8 L218.8 867 L296.2 825.4 M218.8 860 V867 M296.2 818 V825.4"/>
<path class="lw" d="M4.8 645.0 q0 -2.6 2.4 -2.4 q2.4 .2 2.4 2.8 v5 q0 2.6 -2.4 2.4 q-2.4 -.2 -2.4 -2.8Z"/><circle cx="7.0" cy="649.0" r="1"/>
<path class="lw" d="M3.3 733.0 q0 -2.6 2.4 -2.4 q2.4 .2 2.4 2.8 v5 q0 2.6 -2.4 2.4 q-2.4 -.2 -2.4 -2.8Z"/><circle cx="5.5" cy="737.0" r="1"/>
<path class="lw" d="M214.3 768.0 q0 -2.6 2.4 -2.4 q2.4 .2 2.4 2.8 v5 q0 2.6 -2.4 2.4 q-2.4 -.2 -2.4 -2.8Z"/><circle cx="216.5" cy="772.0" r="1"/>
<path class="lw" d="M291.3 726.0 q0 -2.6 2.4 -2.4 q2.4 .2 2.4 2.8 v5 q0 2.6 -2.4 2.4 q-2.4 -.2 -2.4 -2.8Z"/><circle cx="293.5" cy="730.0" r="1"/>
<path class="lw" d="M221.3 858.5 q0 -2.6 2.4 -2.4 q2.4 .2 2.4 2.8 v5 q0 2.6 -2.4 2.4 q-2.4 -.2 -2.4 -2.8Z"/><circle cx="223.5" cy="862.5" r="1"/>
<path class="lw" d="M290.8 819.0 q0 -2.6 2.4 -2.4 q2.4 .2 2.4 2.8 v5 q0 2.6 -2.4 2.4 q-2.4 -.2 -2.4 -2.8Z"/><circle cx="293.0" cy="823.0" r="1"/>
<path class="lw" d="M4.8 649.0 q0 -2.6 2.4 -2.4 q2.4 .2 2.4 2.8 v5 q0 2.6 -2.4 2.4 q-2.4 -.2 -2.4 -2.8Z"/><circle cx="7.0" cy="653.0" r="1"/>
<path d="M47.5 684.5 L61.2 692.5 V700 L47.5 692 Z M47.5 684.5 L49 683.6 L62.6 691.6 L61.2 692.5"/>
<path d="M25 645 v10.5 l6.2 -3.4 v-10 M25 655.5 l-2 -1.2M47.5 658 v10.5 l6.2 -3.4 v-10 M47.5 668.5 l-2 -1.2M70 671 v10.5 l6.2 -3.4 v-10 M70 681.5 l-2 -1.2M92 684 v10.5 l6.2 -3.4 v-10 M92 694.5 l-2 -1.2"/>
<path d="M96.2 684.5 V690 L110 682.5 V679"/>
<path class="lw" d="M20.5 588 L41.2 575.5 L116.2 619.5 V676.2 L96.2 687.5 L20.5 642.5 Z"/>
<path d="M20.5 588 L96.2 632 L116.2 619.5 M96.2 632 V687.5"/>
<path d="M22 590.6 L22 641.6" style="stroke-width:.6"/>
<path d="M24 613.5 q0 -1.4 1.1 -0.9 q1.1 .5 1.1 1.9 v11 q0 1.4 -1.1 0.9 q-1.1 -.5 -1.1 -1.9Z"/>
<path d="M45 612.4 L52.5 616.8 V625.4 L45 621 Z M64.5 623.8 L72 628.2 V636.8 L64.5 632.4 Z"/>
<g style="stroke-width:.8"><ellipse cx="41.2" cy="623.6" rx="1.1" ry="1.4"/><ellipse cx="41.2" cy="630.4" rx="1.1" ry="1.4"/><ellipse cx="41.2" cy="637.2" rx="1.1" ry="1.4"/><ellipse cx="41.2" cy="644.0" rx="1.1" ry="1.4"/><ellipse cx="47.7" cy="627.2" rx="1.1" ry="1.4"/><ellipse cx="47.7" cy="634.0" rx="1.1" ry="1.4"/><ellipse cx="47.7" cy="640.8" rx="1.1" ry="1.4"/><ellipse cx="47.7" cy="647.6" rx="1.1" ry="1.4"/><ellipse cx="54.2" cy="630.8" rx="1.1" ry="1.4"/><ellipse cx="54.2" cy="637.6" rx="1.1" ry="1.4"/><ellipse cx="54.2" cy="644.4" rx="1.1" ry="1.4"/><ellipse cx="54.2" cy="651.2" rx="1.1" ry="1.4"/><ellipse cx="60.7" cy="634.4" rx="1.1" ry="1.4"/><ellipse cx="60.7" cy="641.2" rx="1.1" ry="1.4"/><ellipse cx="60.7" cy="648.0" rx="1.1" ry="1.4"/><ellipse cx="60.7" cy="654.8" rx="1.1" ry="1.4"/><ellipse cx="67.2" cy="638.0" rx="1.1" ry="1.4"/><ellipse cx="67.2" cy="644.8" rx="1.1" ry="1.4"/><ellipse cx="67.2" cy="651.6" rx="1.1" ry="1.4"/><ellipse cx="67.2" cy="658.4" rx="1.1" ry="1.4"/><ellipse cx="73.7" cy="641.6" rx="1.1" ry="1.4"/><ellipse cx="73.7" cy="648.4" rx="1.1" ry="1.4"/><ellipse cx="73.7" cy="655.2" rx="1.1" ry="1.4"/><ellipse cx="73.7" cy="662.0" rx="1.1" ry="1.4"/></g>
<path class="lw" d="M141.8 674.5 v7.0 a10.8 6.0 0 0 0 21.5 0 v-7.0 a10.8 6.0 0 0 0 -21.5 0Z"/><path d="M141.8 674.5 a10.8 6.0 0 0 0 21.5 0"/><path d="M143.2 683.5 a9.2 5.5 0 0 0 18.5 0" /><path d="M144.2 655.5 v15.0 a8.2 4.5 0 0 0 16.5 0 v-15.0Z" style="fill:#2b2624"/><path class="lw" d="M144.2 653.0 v7.0 a8.2 4.5 0 0 0 16.5 0 v-7.0Z"/><ellipse class="lw" cx="152.5" cy="653.0" rx="8.2" ry="4.5"/>
<path d="M143 661 h-2 v9 h2" style="fill:#2b2624"/>
<path class="lw" d="M183.8 716 V748.5 L198.8 756.8 V724.5 Z"/>
<path d="M186.6 721 V745.6 L196.2 751 V726.4 Z"/>
<path class="lw" d="M198.8 724.5 V756.8 L205 753.4 V722 Z"/>
<path class="lw" d="M198.8 724.8 L205.5 721 L212.5 717.2 V740 L205 744"/>
<path class="lw" d="M176 679.5 L183.8 714 L205 723.4 L212.8 717.5 L232.5 679.5 L205 695 Z"/>
<path d="M205 695 V723.4"/>
<path d="M190 696.4 q1 -.6 1.4 .8 l2.6 16.4 q.2 1.4 -1 .9 q-1 -.4 -1.3 -1.8 l-2.4 -15 q-.2 -1 .7 -1.3Z" style="stroke-width:.8"/>
<path class="lw" d="M175 675 L203.2 658 L233 675 V679.6 L205 695.4 L175 679.6 Z"/>
<path d="M175 675 L205 690.8 L233 675 M205 690.8 V695.4"/>
<path d="M180 675.6 L203.2 662.4 L228 675.6 L205 687.6 Z"/>
<path d="M203.2 662.4 V686.6 M180 675.6 L186 680 M228 675.6 L220 680.2"/>
<path d="M229.5 694 L226.5 713.5 L230.5 713 Z" style="fill:#2b2624"/>
<path class="lw" d="M212.0 737.5 v8.0 a10.0 5.6 0 0 0 20.0 0 v-8.0 a10.0 5.6 0 0 0 -20.0 0Z"/><path d="M212.0 737.5 a10.0 5.6 0 0 0 20.0 0"/><path d="M213.5 747.5 a8.5 5.1 0 0 0 17.0 0" /><path d="M214.5 718.5 v15.0 a7.5 4.1 0 0 0 15.0 0 v-15.0Z" style="fill:#2b2624"/><path class="lw" d="M214.5 717.6 v5.0 a7.5 4.1 0 0 0 15.0 0 v-5.0Z"/><ellipse class="lw" cx="222.0" cy="717.6" rx="7.5" ry="4.1"/>
<path d="M211.5 738 l4 -3 l13 0 l3.5 4 v9 l-5 4.6 l-10 -.6 l-5.5 -5Z" style="fill:#2b2624"/>
<ellipse cx="221" cy="744" rx="4.2" ry="3.6" style="fill:#fff"/>
<path d="M214 739 l-3 4 M229 738 l3 5" style="stroke:#fff;stroke-width:.8"/>
<path class="lw" d="M167.5 717 V729 a6.5 3.4 0 0 0 13 0 V717Z"/><ellipse class="lw" cx="174" cy="717" rx="6.5" ry="3.4"/>
<path class="lw" d="M172 711.5 V716 a2.6 1.4 0 0 0 5.2 0 V711.5Z"/><ellipse class="lw" cx="174.6" cy="711.5" rx="2.6" ry="1.4"/>
<path d="M38 723.6 L153.4 789.6 Q156 791 156 788 V786" style="stroke-width:5.0;stroke-linecap:butt"/><path d="M38 723.6 L153.4 789.6 Q156 791 156 788 V786" style="stroke:#fff;stroke-width:2.7;stroke-linecap:butt"/>
<path d="M29 768.6 L140.5 831.5 Q146 834.5 150 832 L159 827" style="stroke-width:5.4;stroke-linecap:butt"/><path d="M29 768.6 L140.5 831.5 Q146 834.5 150 832 L159 827" style="stroke:#fff;stroke-width:3.2;stroke-linecap:butt"/>
<path d="M44 777 L140 831.4" style="stroke-width:.7"/>
<path d="M111 735 V812" style="stroke-width:6;stroke-linecap:butt"/><path d="M111 735 V812" style="stroke:#fff;stroke-width:3.7;stroke-linecap:butt"/>
<path d="M81.6 750 V728 Q81.6 723 86 724.6 L108 736.5" style="stroke-width:5.0;stroke-linecap:butt"/><path d="M81.6 750 V728 Q81.6 723 86 724.6 L108 736.5" style="stroke:#fff;stroke-width:2.7;stroke-linecap:butt"/>
<path d="M111.4 737 Q111.4 731.5 116 729 L124 724.6" style="stroke-width:5.0;stroke-linecap:butt"/><path d="M111.4 737 Q111.4 731.5 116 729 L124 724.6" style="stroke:#fff;stroke-width:2.7;stroke-linecap:butt"/>
<path d="M114 736 L125 742.4 Q128 744 128 748 V775" style="stroke-width:5.0;stroke-linecap:butt"/><path d="M114 736 L125 742.4 Q128 744 128 748 V775" style="stroke:#fff;stroke-width:2.7;stroke-linecap:butt"/>
<path d="M178 709.5 L172 707.5 Q169 706.8 164 709.5 L159 712.4 Q156 714 156 718 V786" style="stroke-width:5.0;stroke-linecap:butt"/><path d="M178 709.5 L172 707.5 Q169 706.8 164 709.5 L159 712.4 Q156 714 156 718 V786" style="stroke:#fff;stroke-width:2.7;stroke-linecap:butt"/>
<path d="M180 734.5 L174 737.6 Q169.8 740 169.8 744 V758 Q169.8 762 166 760.5 L159 757" style="stroke-width:5.0;stroke-linecap:butt"/><path d="M180 734.5 L174 737.6 Q169.8 740 169.8 744 V758 Q169.8 762 166 760.5 L159 757" style="stroke:#fff;stroke-width:2.7;stroke-linecap:butt"/>
<ellipse class="lw" cx="36.6" cy="722.6" rx="2.6" ry="5.2" transform="rotate(-28 36.6 722.6)"/>
<ellipse class="lw" cx="27.6" cy="767.6" rx="2.8" ry="5.6" transform="rotate(-28 27.6 767.6)"/>
<ellipse class="lw" cx="25.6" cy="766.6" rx="2.8" ry="5.6" transform="rotate(-28 25.6 766.6)"/>
<rect x="77.6" y="732.0" width="8.8" height="12" rx="1.6" style="fill:#fff;stroke-width:1.1"/><path d="M77.6 735.4 h8.8 M77.6 740.6 h8.8" style="stroke-width:2.2"/><path d="M76.6 737.8 h10.8" style="stroke-width:1"/>
<rect x="122.0" y="756.0" width="8.8" height="12" rx="1.6" style="fill:#fff;stroke-width:1.1"/><path d="M122.0 759.4 h8.8 M122.0 764.6 h8.8" style="stroke-width:2.2"/><path d="M121.0 761.8 h10.8" style="stroke-width:1"/>
<rect x="151.6" y="739.0" width="8.8" height="12" rx="1.6" style="fill:#fff;stroke-width:1.1"/><path d="M151.6 742.4 h8.8 M151.6 747.6 h8.8" style="stroke-width:2.2"/><path d="M150.6 744.8 h10.8" style="stroke-width:1"/>
<rect x="165.4" y="745.5" width="8.8" height="12" rx="1.6" style="fill:#fff;stroke-width:1.1"/><path d="M165.4 748.9 h8.8 M165.4 754.1 h8.8" style="stroke-width:2.2"/><path d="M164.4 751.3 h10.8" style="stroke-width:1"/>
<rect x="153.6" y="763" width="4.8" height="4.4" rx="1" class="lw"/><rect x="153.4" y="783" width="5.2" height="4.6" rx="1" class="lw"/>
<g transform="translate(103.8 762.2) rotate(30) scale(0.95)"><rect x="-3.4" y="-4.4" width="6.8" height="8.8" rx="1.8" style="fill:#fff;stroke-width:1.1"/><path d="M-1.4 -4.4 V4.4 M1.4 -4.4 V4.4" style="stroke-width:1.4"/></g>
<g transform="translate(50.2 768.6) rotate(30) scale(1.05)"><rect x="-3.4" y="-4.4" width="6.8" height="8.8" rx="1.8" style="fill:#fff;stroke-width:1.1"/><path d="M-1.4 -4.4 V4.4 M1.4 -4.4 V4.4" style="stroke-width:1.4"/></g>
<g transform="translate(104.4 801.4) rotate(30) scale(1.05)"><rect x="-3.4" y="-4.4" width="6.8" height="8.8" rx="1.8" style="fill:#fff;stroke-width:1.1"/><path d="M-1.4 -4.4 V4.4 M1.4 -4.4 V4.4" style="stroke-width:1.4"/></g>
<g transform="translate(158.6 829.6) rotate(30) scale(1.05)"><rect x="-3.4" y="-4.4" width="6.8" height="8.8" rx="1.8" style="fill:#fff;stroke-width:1.1"/><path d="M-1.4 -4.4 V4.4 M1.4 -4.4 V4.4" style="stroke-width:1.4"/></g>
<path class="lw" d="M103.6 722.6 h4.6 v6 h-4.6Z"/><path d="M103.2 722.4 h5.4 M104 720.8 h3.8" style="stroke-width:1.4"/>
<path d="M57 728 l1.2 -2.4 l2.6 1.4 l-.8 2.4 M95.8 723 l1.2 -2.4 l2.6 1.4 l-.8 2.4 M97.5 753.5 l1.2 -2.4 l2.6 1.4 l-.8 2.4 M118 741.5 l1.2 -2.4 l2.6 1.4 l-.8 2.4 M140.5 778 l1.2 -2.4 l2.6 1.4 l-.8 2.4 M143.5 748 l1.2 -2.4 l2.6 1.4 l-.8 2.4 M127 779 l1.2 -2.4 l2.6 1.4 l-.8 2.4 " style="stroke-width:.9"/>
</g>
<!-- drawing 6 -->
<g class="ln" id="d6">
<path d="M386 662.8 L493.7 601.9 L530.8 623 L539.5 617.3 L548.1 623.4 V704.8 L428 774.8"/>
<path d="M548.1 623.4 L428.6 692.6"/>
<path style="stroke-width:1.05" d="M424.1 646.6 L437.4 639.4 L439.4 640.5 L426.1 647.8Z M428.7 649.3 L442.0 642.0 L444.0 643.2 L430.7 650.4Z M433.2 651.9 L446.5 644.7 L448.5 645.8 L435.2 653.1Z M439.3 638.1 L452.6 630.9 L454.6 632.0 L441.3 639.3Z M443.9 640.8 L457.2 633.5 L459.2 634.7 L445.9 641.9Z M448.5 643.5 L461.8 636.2 L463.8 637.4 L450.5 644.6Z M454.6 629.6 L467.9 622.4 L469.9 623.5 L456.6 630.8Z M459.1 632.3 L472.4 625.0 L474.4 626.2 L461.1 633.4Z M463.7 635.0 L477.0 627.7 L479.0 628.9 L465.7 636.1Z M469.8 621.1 L483.1 613.9 L485.1 615.0 L471.8 622.3Z M474.4 623.8 L487.7 616.5 L489.7 617.7 L476.4 624.9Z M478.9 626.5 L492.2 619.2 L494.2 620.4 L480.9 627.6Z "/>
<path style="stroke-width:1.05" d="M402.6 659.6 L413.2 653.8 L415.2 655.0 L404.6 660.8Z M407.0 662.1 L417.6 656.3 L419.6 657.5 L409.0 663.2Z M411.4 664.6 L422.0 658.8 L424.0 660.0 L413.4 665.8Z "/>
<path style="stroke-width:1.05" d="M468.3 684.2 L491.1 672.2 L491.1 675.0 L468.3 687.0Z M468.3 691.5 L491.1 679.5 L491.1 682.3 L468.3 694.3Z M468.3 698.8 L491.1 686.8 L491.1 689.6 L468.3 701.6Z M493.3 670.0 L516.1 658.0 L516.1 660.8 L493.3 672.8Z M493.3 677.3 L516.1 665.3 L516.1 668.1 L493.3 680.1Z M493.3 684.6 L516.1 672.6 L516.1 675.4 L493.3 687.4Z M518.3 655.8 L541.1 643.8 L541.1 646.6 L518.3 658.6Z M518.3 663.1 L541.1 651.1 L541.1 653.9 L518.3 665.9Z M518.3 670.4 L541.1 658.4 L541.1 661.2 L518.3 673.2Z M468.3 719.0 L491.1 707.0 L491.1 709.8 L468.3 721.8Z M468.3 726.3 L491.1 714.3 L491.1 717.1 L468.3 729.1Z M468.3 733.6 L491.1 721.6 L491.1 724.4 L468.3 736.4Z M493.3 704.8 L516.1 692.8 L516.1 695.6 L493.3 707.6Z M493.3 712.1 L516.1 700.1 L516.1 702.9 L493.3 714.9Z M493.3 719.4 L516.1 707.4 L516.1 710.2 L493.3 722.2Z M518.3 690.6 L541.1 678.6 L541.1 681.4 L518.3 693.4Z M518.3 697.9 L541.1 685.9 L541.1 688.7 L518.3 700.7Z M518.3 705.2 L541.1 693.2 L541.1 696.0 L518.3 708.0Z "/>
<path class="lw" d="M371.8 656.8 L373.1 655.7 L428.6 686 V790.8 L427 791.2 L371.8 760.4 Z"/>
<path d="M371.8 656.8 L426.4 687 V791 M426.4 687 L428.6 686"/>
<path d="M373.9 674.4 L421.8 700.6 V775.8 L373.9 749.4 Z"/>
<path d="M375 676.3 L421.8 702"/>
<circle cx="398.6" cy="680.4" r="2.1"/>
<path d="M377.8 685.6 L418.6 708.6 V721.6 L376.4 698.4 V686.6 Q376.4 684.8 377.8 685.6Z"/>
<path d="M388.2 694.2 L417.3 710.4 V719.2 L388.2 703 Z"/>
<path style="stroke-width:.7" d="M378.8 689.3 L385.2 692.8 V695.6 L378.8 692.1 Z"/>
<path style="stroke-width:.7" d="M378.8 693.4 L385.2 696.9 V699.7 L378.8 696.2 Z"/>
<path style="stroke-width:.7" d="M378.8 697.5 L385.2 701.0 V703.8 L378.8 700.3 Z"/>
<path d="M379.0 704.1 L384.0 706.8 Q385.3 707.5 385.3 708.8 V711.8 Q385.3 713.1 384.0 712.4 L379.0 709.7 Q377.7 709.0 377.7 707.7 V704.7 Q377.7 703.4 379.0 704.1Z"/>
<path d="M389.4 709.8 L394.4 712.5 Q395.7 713.2 395.7 714.5 V717.5 Q395.7 718.8 394.4 718.1 L389.4 715.4 Q388.1 714.7 388.1 713.4 V710.4 Q388.1 709.1 389.4 709.8Z"/>
<path d="M399.8 715.5 L404.8 718.2 Q406.1 718.9 406.1 720.2 V723.2 Q406.1 724.5 404.8 723.8 L399.8 721.1 Q398.5 720.4 398.5 719.1 V716.1 Q398.5 714.8 399.8 715.5Z"/>
<path d="M410.2 721.2 L415.2 723.9 Q416.5 724.6 416.5 725.9 V728.9 Q416.5 730.2 415.2 729.5 L410.2 726.8 Q408.9 726.1 408.9 724.8 V721.8 Q408.9 720.5 410.2 721.2Z"/>
<path d="M378.9 712.3 L386.5 716.4 Q387.7 717.1 387.7 718.3 V722.9 Q387.7 724.1 386.5 723.4 L378.9 719.3 Q377.7 718.6 377.7 717.4 V712.8 Q377.7 711.6 378.9 712.3Z"/>
<path d="M392.2 719.5 L401.8 724.7 Q403.0 725.3 403.0 726.5 V732.1 Q403.0 733.3 401.8 732.7 L392.2 727.5 Q391.0 726.8 391.0 725.6 V720.0 Q391.0 718.8 392.2 719.5Z"/>
<path d="M406.0 726.9 L414.9 731.7 Q416.1 732.4 416.1 733.6 V738.6 Q416.1 739.8 414.9 739.1 L406.0 734.3 Q404.8 733.6 404.8 732.4 V727.4 Q404.8 726.2 406.0 726.9Z"/>
<path d="M381.5 719.5 L383.5 717 L385 721 Z M408.5 733 L412 734.2 L410.5 736.5 Z"/>
<path class="lw" d="M396.5 753.5 L405 750.8 C409 750.5 412 755.5 411 760 C410.5 762.5 409 763.8 407 764.4 L399 768.6"/>
<ellipse class="lw" cx="397.6" cy="762" rx="4.2" ry="6" transform="rotate(-28 397.6 762)"/>
<path d="M397.2 768.2 C397 770.2 399.2 771.3 399.6 769.2"/>
</g>

</svg>
<div class="t" style="left:49.5px;top:189.2px;font-size:23.1px;width:164.4px">预润装置SUS304</div>
<div class="t" style="left:52.5px;top:451.9px;font-size:23.1px;width:156.4px">预润装置UPVC</div>
<div class="t" style="left:51.6px;top:895.5px;font-size:23.1px;width:184.8px">成套絮凝制备系统</div>
<div class="t" style="left:388.0px;top:217.2px;font-size:23.1px;width:115.5px">无级变速器</div>
<div class="t" style="left:389.8px;top:526.3px;font-size:23.1px;width:69.3px">变频器</div>
<div class="t" style="left:387.0px;top:797.5px;font-size:23.1px;width:115.5px">单相驱动器</div>
<div class="t" style="left:524.3px;top:50.0px;font-size:16.4px;width:87.4px">变速范围大;</div>
<div class="t" style="left:524.3px;top:69.8px;font-size:16.4px;width:71.0px">调速方便;</div>
<div class="t" style="left:524.3px;top:89.6px;font-size:16.4px;width:136.6px">运行平稳，噪音低;</div>
<div class="t" style="left:524.3px;top:109.5px;font-size:16.4px;width:103.8px">调速精度不高;</div>
<div class="t" style="left:524.3px;top:129.3px;font-size:16.4px;width:87.4px">调速无数显;</div>
<div class="t" style="left:524.3px;top:149.1px;font-size:16.4px;width:153.0px">运行一段时间要加油,</div>
<div class="t" style="left:524.3px;top:168.9px;font-size:16.4px;width:103.8px">并且调节困难;</div>
<div class="t" style="left:560.0px;top:369.1px;font-size:16.4px;width:87.4px">调速精度高;</div>
<div class="t" style="left:560.0px;top:388.9px;font-size:16.4px;width:87.4px">变速范围大;</div>
<div class="t" style="left:560.0px;top:408.7px;font-size:16.4px;width:103.8px">调速数显可见;</div>
<div class="t" style="left:560.0px;top:428.6px;font-size:16.4px;width:54.6px">免维护;</div>
<div class="t" style="left:560.0px;top:448.4px;font-size:16.4px;width:114.8px">可接受外部信号</div>
<div class="t" style="left:560.0px;top:468.2px;font-size:16.4px;width:71.0px">自动控制;</div>
<div class="t" style="left:560.0px;top:649.1px;font-size:16.4px;width:87.4px">调速精度高;</div>
<div class="t" style="left:560.0px;top:668.9px;font-size:16.4px;width:87.4px">变速范围大;</div>
<div class="t" style="left:560.0px;top:688.7px;font-size:16.4px;width:103.8px">调速数显可见;</div>
<div class="t" style="left:560.0px;top:708.6px;font-size:16.4px;width:54.6px">免维护;</div>
<div class="t" style="left:560.0px;top:728.4px;font-size:16.4px;width:120.2px">调速方便、可靠;</div>

</body></html>
